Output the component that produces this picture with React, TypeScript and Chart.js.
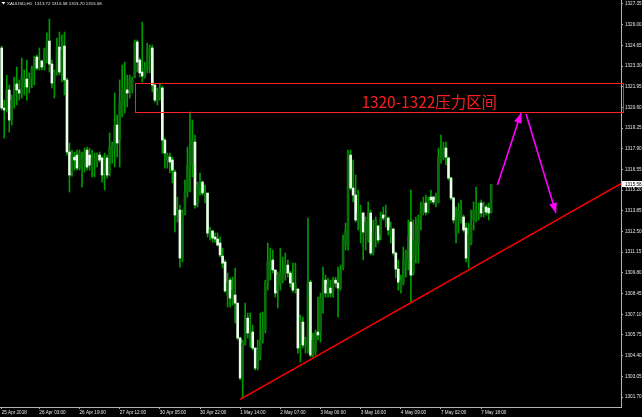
import { useEffect, useRef } from "react";
import { Chart, registerables } from "chart.js";

Chart.register(...registerables);

// ---------- data ----------
const symbolTitle = "XAUUSD,H1";
const headerValues = ["1313.72", "1315.58", "1313.70", "1315.58"];

// H1 candles: [open, high, low, close]
const candles: [number, number, number, number][] = [
  [1324.48, 1324.61, 1320.43, 1320.56], [1320.56, 1321.08, 1318.60, 1320.43], [1320.43, 1322.71, 1320.30, 1321.74],
  [1321.74, 1322.06, 1318.99, 1319.78], [1319.78, 1321.41, 1319.45, 1321.08], [1321.08, 1322.58, 1320.56, 1322.06],
  [1322.13, 1323.24, 1320.76, 1321.74], [1321.74, 1322.39, 1321.08, 1321.54], [1321.54, 1323.82, 1321.21, 1322.58],
  [1322.26, 1323.04, 1321.41, 1322.52], [1322.45, 1323.69, 1321.08, 1321.93], [1321.93, 1322.85, 1321.54, 1322.52],
  [1322.52, 1323.30, 1321.87, 1323.17], [1323.04, 1323.95, 1322.06, 1323.82], [1323.89, 1324.02, 1323.04, 1323.17],
  [1323.17, 1324.48, 1323.04, 1323.69], [1323.63, 1323.69, 1323.04, 1323.24], [1323.24, 1324.48, 1323.04, 1324.35],
  [1323.82, 1325.46, 1323.50, 1324.87], [1324.93, 1326.37, 1322.91, 1323.43], [1323.43, 1323.69, 1321.87, 1322.19],
  [1322.26, 1323.04, 1321.21, 1322.91], [1322.91, 1325.13, 1322.71, 1324.54], [1324.54, 1325.52, 1322.71, 1322.91],
  [1322.85, 1325.33, 1322.26, 1324.35], [1324.61, 1325.52, 1321.41, 1322.39], [1322.39, 1322.52, 1317.49, 1317.69],
  [1317.69, 1318.28, 1315.08, 1316.19], [1316.32, 1317.82, 1316.12, 1317.49], [1317.36, 1317.69, 1316.51, 1317.17],
  [1317.49, 1317.82, 1316.51, 1316.64], [1316.64, 1317.82, 1316.51, 1317.62], [1316.84, 1317.69, 1315.40, 1317.30],
  [1316.84, 1317.95, 1316.38, 1317.69], [1317.82, 1318.02, 1316.51, 1316.71], [1317.49, 1317.95, 1316.51, 1316.84],
  [1316.71, 1317.82, 1316.06, 1317.30], [1317.17, 1317.62, 1316.06, 1317.36], [1317.04, 1317.62, 1316.71, 1317.43],
  [1317.49, 1317.69, 1317.04, 1317.17], [1317.30, 1317.43, 1315.73, 1316.19], [1316.32, 1317.62, 1315.21, 1317.17],
  [1317.30, 1317.49, 1315.99, 1316.19], [1316.32, 1318.93, 1316.12, 1318.02], [1317.82, 1318.34, 1316.97, 1318.15],
  [1317.82, 1321.54, 1316.71, 1319.45], [1319.45, 1320.10, 1317.36, 1318.28], [1318.47, 1322.39, 1316.71, 1320.95],
  [1320.10, 1323.37, 1319.97, 1321.74], [1321.08, 1323.56, 1320.23, 1321.74], [1321.74, 1322.71, 1320.63, 1321.54],
  [1321.74, 1322.71, 1321.21, 1322.52], [1321.74, 1322.58, 1321.54, 1322.39], [1322.58, 1325.00, 1322.52, 1324.87],
  [1324.87, 1325.00, 1322.91, 1323.56], [1323.69, 1323.82, 1322.58, 1322.85], [1322.91, 1326.17, 1322.26, 1322.65],
  [1322.58, 1323.56, 1322.52, 1323.17], [1323.04, 1324.80, 1322.85, 1324.35], [1324.02, 1324.67, 1322.85, 1324.48],
  [1324.48, 1324.67, 1321.61, 1322.06], [1322.06, 1322.13, 1320.95, 1321.08], [1321.08, 1321.87, 1320.76, 1321.61],
  [1321.21, 1322.19, 1321.08, 1321.87], [1321.87, 1322.00, 1317.62, 1318.47], [1318.47, 1318.60, 1316.64, 1317.62],
  [1317.17, 1317.62, 1316.64, 1317.49], [1317.36, 1317.62, 1316.32, 1317.04], [1317.17, 1317.36, 1315.67, 1316.51],
  [1316.38, 1316.51, 1312.47, 1313.58], [1313.58, 1314.75, 1313.12, 1313.90], [1313.90, 1314.23, 1310.18, 1310.77],
  [1310.77, 1313.90, 1310.51, 1313.71], [1313.71, 1315.86, 1313.58, 1315.08], [1315.08, 1318.02, 1314.75, 1316.84],
  [1316.64, 1320.30, 1315.08, 1317.82], [1316.84, 1319.78, 1316.06, 1318.47], [1318.34, 1318.80, 1314.03, 1314.23],
  [1314.36, 1315.73, 1314.10, 1315.54], [1315.40, 1316.32, 1314.88, 1315.73], [1315.73, 1315.80, 1314.88, 1315.01],
  [1314.88, 1315.54, 1314.36, 1315.08], [1315.01, 1315.01, 1312.14, 1312.40], [1312.27, 1312.79, 1311.95, 1312.60],
  [1312.53, 1312.60, 1311.81, 1312.08], [1312.14, 1312.40, 1311.81, 1312.01], [1312.01, 1312.40, 1311.55, 1311.62],
  [1311.75, 1312.14, 1310.84, 1310.97], [1310.90, 1311.42, 1310.12, 1310.44], [1310.51, 1310.64, 1308.55, 1308.62],
  [1308.36, 1309.79, 1307.57, 1309.20], [1309.33, 1309.47, 1307.57, 1308.16], [1308.03, 1309.53, 1307.70, 1308.68],
  [1308.36, 1310.12, 1306.53, 1307.83], [1307.83, 1307.83, 1305.42, 1305.55], [1305.55, 1305.61, 1302.81, 1302.94],
  [1302.94, 1305.42, 1301.63, 1305.22], [1305.22, 1307.83, 1305.09, 1306.72], [1306.85, 1307.18, 1305.55, 1305.88],
  [1305.42, 1307.18, 1304.96, 1306.07], [1305.94, 1306.40, 1304.77, 1304.90], [1304.90, 1304.90, 1303.46, 1303.59],
  [1303.59, 1305.42, 1303.46, 1304.77], [1304.44, 1307.18, 1304.11, 1305.42], [1305.42, 1307.25, 1305.22, 1306.07],
  [1306.07, 1309.33, 1305.88, 1309.14], [1309.14, 1311.75, 1308.68, 1310.51], [1309.99, 1311.42, 1309.33, 1310.64],
  [1310.64, 1311.29, 1309.79, 1309.99], [1309.99, 1309.99, 1308.22, 1308.49], [1308.68, 1309.86, 1307.51, 1309.66],
  [1309.01, 1311.42, 1308.68, 1309.79], [1309.33, 1310.84, 1309.14, 1309.86], [1309.79, 1311.10, 1309.33, 1310.31],
  [1310.31, 1310.64, 1309.53, 1309.79], [1309.79, 1309.92, 1308.88, 1309.14], [1309.14, 1310.44, 1308.55, 1308.68],
  [1308.68, 1310.44, 1308.49, 1309.07], [1308.75, 1308.75, 1304.57, 1304.90], [1305.22, 1307.05, 1303.98, 1306.72],
  [1306.59, 1306.92, 1304.90, 1305.09], [1305.09, 1305.61, 1304.57, 1305.42], [1304.77, 1313.38, 1304.57, 1309.14],
  [1309.20, 1309.33, 1304.31, 1304.44], [1304.44, 1305.88, 1304.31, 1305.42], [1304.63, 1306.07, 1304.44, 1305.88],
  [1305.94, 1308.22, 1305.42, 1305.75], [1305.88, 1308.49, 1305.29, 1308.22], [1308.22, 1310.18, 1307.18, 1309.33],
  [1309.33, 1309.66, 1308.22, 1308.49], [1308.49, 1309.47, 1308.22, 1309.07], [1308.81, 1309.33, 1308.22, 1308.49],
  [1308.55, 1309.53, 1308.22, 1309.33], [1309.33, 1309.53, 1308.88, 1309.14], [1309.14, 1310.18, 1306.92, 1308.81],
  [1308.81, 1310.31, 1308.68, 1309.99], [1310.12, 1312.27, 1309.99, 1311.95], [1311.62, 1313.05, 1311.29, 1312.60],
  [1311.49, 1317.82, 1311.29, 1317.62], [1317.49, 1317.82, 1315.21, 1315.34], [1315.34, 1317.17, 1314.43, 1314.88],
  [1314.88, 1316.19, 1313.12, 1313.25], [1313.25, 1315.21, 1312.60, 1313.71], [1312.73, 1314.23, 1311.75, 1313.71],
  [1313.71, 1313.77, 1310.64, 1312.47], [1312.40, 1313.45, 1311.29, 1313.12], [1311.95, 1314.43, 1311.81, 1313.77],
  [1313.71, 1313.90, 1310.97, 1311.10], [1311.10, 1313.25, 1310.97, 1312.40], [1312.60, 1313.45, 1311.49, 1313.25],
  [1312.86, 1312.92, 1311.75, 1311.95], [1312.27, 1313.77, 1311.95, 1313.45], [1313.58, 1314.10, 1313.25, 1313.38],
  [1313.25, 1314.23, 1312.79, 1313.45], [1313.38, 1313.45, 1312.27, 1312.60], [1312.40, 1313.12, 1311.75, 1312.79],
  [1312.66, 1312.73, 1310.97, 1311.10], [1311.10, 1311.16, 1309.47, 1310.05], [1310.05, 1310.64, 1308.68, 1309.20],
  [1308.68, 1309.66, 1308.49, 1309.33], [1309.14, 1311.49, 1309.01, 1310.64], [1310.31, 1311.29, 1309.53, 1311.16],
  [1310.64, 1313.25, 1309.99, 1312.14], [1313.12, 1315.21, 1307.90, 1309.66], [1309.79, 1313.25, 1309.66, 1311.95],
  [1310.97, 1313.45, 1310.44, 1312.92], [1311.62, 1313.58, 1310.44, 1313.25], [1313.25, 1314.43, 1312.60, 1313.90],
  [1313.71, 1314.75, 1313.58, 1314.23], [1314.36, 1314.88, 1313.58, 1313.77], [1313.90, 1314.75, 1313.71, 1314.43],
  [1314.75, 1315.21, 1314.36, 1314.56], [1314.75, 1314.82, 1314.29, 1314.43], [1314.43, 1315.01, 1314.10, 1314.56],
  [1314.43, 1317.95, 1314.36, 1317.36], [1317.17, 1318.80, 1316.97, 1317.82], [1317.30, 1318.34, 1317.17, 1317.95],
  [1317.95, 1318.34, 1316.84, 1317.36], [1317.30, 1317.36, 1315.86, 1315.99], [1315.99, 1316.06, 1314.56, 1314.69],
  [1314.69, 1314.75, 1313.05, 1313.25], [1312.27, 1314.10, 1311.75, 1313.38], [1313.25, 1314.36, 1312.40, 1313.90],
  [1313.58, 1314.56, 1313.05, 1313.90], [1313.45, 1313.58, 1312.47, 1312.60], [1312.73, 1313.05, 1310.51, 1310.77],
  [1310.84, 1313.05, 1310.12, 1312.27], [1311.75, 1313.90, 1311.62, 1312.92], [1313.25, 1314.43, 1312.60, 1313.90],
  [1313.25, 1315.40, 1313.12, 1313.71], [1313.58, 1314.36, 1313.25, 1313.77], [1314.36, 1314.56, 1313.45, 1313.71],
  [1313.77, 1314.43, 1313.45, 1314.10], [1314.10, 1314.23, 1313.58, 1313.77], [1314.03, 1314.36, 1313.25, 1313.71],
  [1313.72, 1315.58, 1313.70, 1315.58],
];

const timeTickBars = [0, 15, 31, 47, 63, 79, 95, 111, 127, 143, 159, 175, 191];
const timeTickLabels = [
  "25 Apr 2018", "26 Apr 03:00", "26 Apr 19:00", "27 Apr 12:00", "30 Apr 05:00", "30 Apr 22:00",
  "1 May 14:00", "2 May 07:00", "3 May 00:00", "3 May 16:00", "4 May 09:00", "7 May 02:00", "7 May 18:00",
];
const priceTicks = [
  1301.70, 1303.05, 1304.40, 1305.75, 1307.10, 1308.45, 1309.80, 1311.15, 1312.50, 1313.85,
  1315.20, 1316.55, 1317.90, 1319.25, 1320.60, 1321.95, 1323.30, 1324.65, 1326.00, 1327.35,
];
const lastPrice = 1315.58;
const barRange = [-0.68, 246.72];
const priceRange = [1301.05, 1327.61];

// annotations (bar index, price)
const zoneBars = [53.1, 247.5];
const zonePrices = [1320.28, 1322.17];
const zoneLabel = "1320-1322压力区间";
const zoneLabelBars = [143.3, 197.4];
const zoneLabelPrice = 1320.95;
const trendPoints = [[95, 1301.55], [246.72, 1315.63]];
const arrowUp = [[197.5, 1315.54], [206.9, 1320.23]];
const arrowDown = [[208.9, 1320.17], [220.8, 1313.71]];

// ---------- styles ----------
const WICK = "#009a00";
const BULL = "#0a6e0a";
const BEAR = "#e8ffe8";
const AXIS = "#b4b4b4";
const TEXT = "#e6e6e6";
const TICK_FONT = { family: "Liberation Sans", size: 4.6 };

export default function App() {
  const ref = useRef<HTMLCanvasElement | null>(null);

  useEffect(() => {
    document.body.style.margin = "0";
    document.body.style.background = "#000";
    const canvas = ref.current;
    if (!canvas) return;

    const overlay = {
      id: "mt4overlay",
      beforeDraw(chart: any) {
        const { ctx, width, height } = chart;
        ctx.save();
        ctx.fillStyle = "#000";
        ctx.fillRect(0, 0, width, height);
        ctx.restore();
      },
      afterDraw(chart: any) {
        const { ctx, chartArea } = chart;
        const xs = chart.scales.x;
        const ys = chart.scales.y;
        const px = (v: number) => xs.getPixelForValue(v);
        const py = (v: number) => ys.getPixelForValue(v);
        ctx.save();

        // resistance zone
        const x1 = Math.round(px(zoneBars[0])) + 0.5;
        const x2 = Math.round(px(zoneBars[1])) + 0.5;
        const yTop = Math.round(py(zonePrices[1])) + 0.5;
        const yBot = Math.round(py(zonePrices[0])) + 0.5;
        ctx.strokeStyle = "#ff2222";
        ctx.lineWidth = 1;
        ctx.strokeRect(x1, yTop, x2 - x1, yBot - yTop);

        // zone label, fitted between its two bar positions
        const lx1 = px(zoneLabelBars[0]);
        const lx2 = px(zoneLabelBars[1]);
        ctx.font = '14px "Noto Sans CJK SC"';
        const w14 = ctx.measureText(zoneLabel).width;
        const size = (14 * (lx2 - lx1)) / w14;
        ctx.font = `${size.toFixed(2)}px "Noto Sans CJK SC"`;
        ctx.fillStyle = "#ff1e1e";
        ctx.textAlign = "left";
        ctx.textBaseline = "middle";
        ctx.fillText(zoneLabel, lx1, py(zoneLabelPrice));

        // magenta arrows
        const drawArrow = (a: number[][]) => {
          const sx = px(a[0][0]), sy = py(a[0][1]);
          const ex = px(a[1][0]), ey = py(a[1][1]);
          ctx.strokeStyle = "#ff00ff";
          ctx.fillStyle = "#ff00ff";
          ctx.lineWidth = 1.6;
          ctx.beginPath();
          ctx.moveTo(sx, sy);
          ctx.lineTo(ex, ey);
          ctx.stroke();
          const ang = Math.atan2(ey - sy, ex - sx);
          const len = 10, half = 4;
          const bx = ex - len * Math.cos(ang), by = ey - len * Math.sin(ang);
          ctx.beginPath();
          ctx.moveTo(ex, ey);
          ctx.lineTo(bx + half * Math.sin(ang), by - half * Math.cos(ang));
          ctx.lineTo(bx - half * Math.sin(ang), by + half * Math.cos(ang));
          ctx.closePath();
          ctx.fill();
        };
        drawArrow(arrowUp);
        drawArrow(arrowDown);

        // current price label
        const ly = py(lastPrice);
        ctx.fillStyle = "#ffffff";
        ctx.fillRect(chartArea.right + 1, Math.round(ly) - 3, 20, 6);
        ctx.fillStyle = "#000000";
        ctx.font = '4.6px "Liberation Sans"';
        ctx.textAlign = "left";
        ctx.textBaseline = "middle";
        ctx.fillText(lastPrice.toFixed(2), chartArea.right + 4, ly + 0.3);

        // header
        ctx.fillStyle = "#ffffff";
        ctx.beginPath();
        ctx.moveTo(1.5, 2);
        ctx.lineTo(5.5, 2);
        ctx.lineTo(3.5, 4.5);
        ctx.closePath();
        ctx.fill();
        ctx.fillStyle = TEXT;
        ctx.font = '4.4px "Liberation Sans"';
        ctx.textAlign = "left";
        ctx.textBaseline = "middle";
        ctx.fillText(symbolTitle + "  " + headerValues.join(" "), 7, 3.3);
        ctx.restore();
      },
    };

    const wickData = candles.map((c, i) => ({ x: i, y: [c[2], c[1]] }));
    const bodyData = candles.map((c, i) => ({ x: i, y: [c[0], c[3]] }));
    const bodyColors = candles.map((c) => (c[3] >= c[0] ? BULL : BEAR));

    const chart = new Chart(canvas, {
      type: "bar",
      data: {
        datasets: [
          {
            type: "line",
            data: trendPoints.map((p) => ({ x: p[0], y: p[1] })),
            borderColor: "#ff0000",
            borderWidth: 1.6,
            pointRadius: 0,
            order: 0,
          } as any,
          {
            data: bodyData as any,
            backgroundColor: bodyColors,
            borderWidth: 0,
            barThickness: 2,
            minBarLength: 1,
            grouped: false,
            order: 1,
          } as any,
          {
            data: wickData as any,
            backgroundColor: WICK,
            borderWidth: 0,
            barThickness: 1,
            grouped: false,
            order: 2,
          } as any,
        ],
      },
      options: {
        responsive: false,
        animation: false,
        events: [],
        layout: { padding: 0 },
        plugins: { legend: { display: false }, tooltip: { enabled: false } },
        scales: {
          x: {
            type: "linear",
            min: barRange[0],
            max: barRange[1],
            offset: false,
            grid: { display: true, drawOnChartArea: false, offset: false, tickLength: 2, color: AXIS },
            border: { display: true, color: AXIS, width: 1 },
            afterBuildTicks: (scale: any) => {
              scale.ticks = timeTickBars.map((v) => ({ value: v }));
            },
            afterFit: (scale: any) => {
              scale.height = 10;
              scale.paddingLeft = 0;
              scale.paddingRight = 0;
              scale.paddingTop = 0;
              scale.paddingBottom = 0;
            },
            ticks: {
              autoSkip: false,
              maxRotation: 0,
              minRotation: 0,
              align: "start",
              padding: 1,
              color: TEXT,
              font: TICK_FONT,
              callback: (_v: any, i: number) => timeTickLabels[i],
            },
          } as any,
          y: {
            type: "linear",
            position: "right",
            min: priceRange[0],
            max: priceRange[1],
            grid: { display: true, drawOnChartArea: false, tickLength: 2, color: AXIS },
            border: { display: true, color: AXIS, width: 1 },
            afterBuildTicks: (scale: any) => {
              scale.ticks = priceTicks.map((v) => ({ value: v }));
            },
            afterFit: (scale: any) => {
              scale.width = 21;
              scale.paddingTop = 0;
              scale.paddingBottom = 0;
              scale.paddingLeft = 0;
              scale.paddingRight = 0;
            },
            ticks: {
              autoSkip: false,
              padding: 2,
              color: TEXT,
              font: TICK_FONT,
              callback: (v: any) => Number(v).toFixed(2),
            },
          } as any,
        },
      },
      plugins: [overlay],
    });

    return () => chart.destroy();
  }, []);

  return (
    <div style={{ width: 642, height: 417, background: "#000" }}>
      <canvas ref={ref} width={642} height={417} style={{ display: "block", width: 642, height: 417 }} />
    </div>
  );
}
